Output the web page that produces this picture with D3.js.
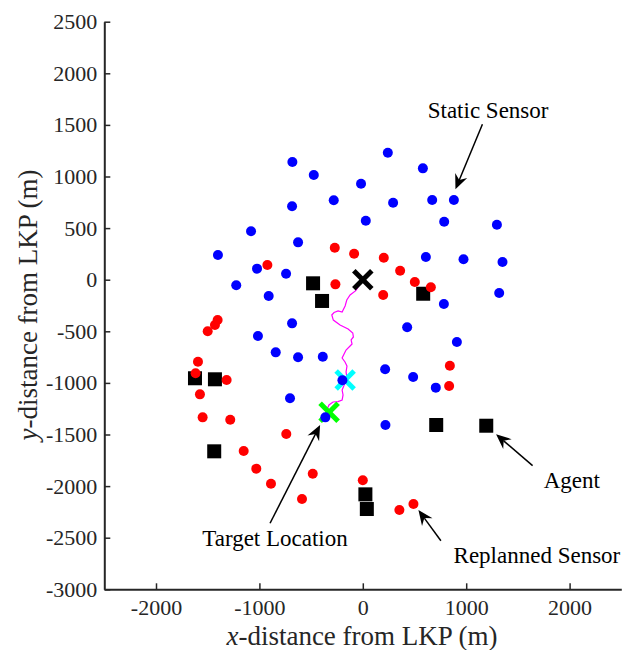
<!DOCTYPE html>
<html>
<head>
<meta charset="utf-8">
<script src="https://cdn.jsdelivr.net/npm/d3@7"></script>
<style>
  body { margin: 0; background: #fff; }
  text { font-family: "Liberation Serif", "DejaVu Serif", serif; }
</style>
</head>
<body>
<script>
// static sensors (blue)
var staticX = [-681, -474, -17, 242, 581, -684, -281, 293, 671, 881, -1081, -626, 29, 787, 1297,
               -1401, -1023, -742, 610, 974, 1351, -1224, -910, 1319, 784, -684, 429, -1014, 910,
               -842, -626, -387, 216, 487, 706, -197, -704, -362, 219];
var staticY = [1140, 1014, 930, 1231, 1079, 711, 769, 746, 772, 772, 469, 362, 572, 562, 533,
               239, 107, 58, 220, 198, 172, -54, -158, -129, -235, -423, -460, -546, -604,
               -704, -752, -746, -868, -943, -1046, -975, -1149, -1334, -1408];
// replanned sensors (red)
var replanX = [-923, -271, -84, -265, 203, 361, 503, 658, 197, -1404, -1430, -1500, -1594, -1617,
               -1317, -1575, -1549, -1282, -740, -1152, -1030, -888, -484, -588, 842, 835, 0, 354, 490];
var replanY = [142, 310, 252, -45, 213, 87, -22, -74, -148, -391, -439, -500, -795, -907,
               -972, -1111, -1334, -1357, -1495, -1660, -1831, -1977, -1880, -2125, -833, -1030, -1944, -2232, -2174];
// agents (black squares)
var agentX = [-481, -394, 584, -1623, -1430, -1437, 710, 1194, 25, 39];
var agentY = [-35, -206, -136, -955, -965, -1663, -1408, -1415, -2080, -2222];
// target track (magenta)
var trackX = [0, -68, -123, -155, -171, -200, -239, -278, -300, -285, -220, -142, -97, -91, -113, -104,
              -123, -162, -181, -200, -172, -153, -162, -153, -172, -200, -191, -200, -240, -288, -327, -349];
var trackY = [0, -106, -148, -197, -255, -313, -303, -318, -342, -391, -439, -478, -516, -555, -584, -623,
              -642, -681, -720, -759, -797, -836, -894, -953, -1001, -1069, -1117, -1166, -1182, -1185, -1214, -1263];
// cross markers: LKP, estimate, target location
var crossX = [0, -171, -326];
var crossY = [0, -972, -1285];
var crossColor = ['#000000', '#00ffff', '#00ff00'];

var xTicks = [-2000, -1000, 0, 1000, 2000];
var yTicks = [-3000, -2500, -2000, -1500, -1000, -500, 0, 500, 1000, 1500, 2000, 2500];

// annotations: label position, arrow tail, arrow tip (data units)
var noteText = ['Static Sensor', 'Agent', 'Replanned Sensor', 'Target Location'];
var noteX = [1212, 2022, 1684, -849];
var noteY = [1643, -1941, -2668, -2506];
var tailX = [1157, 1642, 755, -897];
var tailY = [1506, -1802, -2529, -2360];
var tipX = [896, 1289, 538, -413];
var tipY = [876, -1498, -2232, -1408];

var W = 623, H = 650;
var svg = d3.select('body').append('svg').attr('width', W).attr('height', H);

var x = d3.scaleLinear().domain([-2500, 2500]).range([104.3, 621.3]);
var y = d3.scaleLinear().domain([-3000, 2500]).range([589.3, 21.7]);

var axisColor = '#262626';
var minus = function (d) { return d < 0 ? '-' + Math.abs(d) : String(d); };

// axes
var gx = svg.append('g').attr('transform', 'translate(0,' + y(-3000) + ')')
    .call(d3.axisBottom(x).tickValues(xTicks).tickSizeInner(-6).tickSizeOuter(0).tickPadding(10)
        .tickFormat(minus));
var gy = svg.append('g').attr('transform', 'translate(' + x(-2500) + ',0)')
    .call(d3.axisLeft(y).tickValues(yTicks).tickSizeInner(-6).tickSizeOuter(0).tickPadding(7)
        .tickFormat(minus));
[gx, gy].forEach(function (g) {
    g.attr('font-family', '"Liberation Serif", serif').attr('font-size', 22);
    g.select('.domain').attr('stroke', axisColor).attr('stroke-width', 2);
    g.selectAll('.tick line').attr('stroke', axisColor).attr('stroke-width', 1.5);
    g.selectAll('.tick text').attr('fill', axisColor);
});

// axis labels
var xl = svg.append('text').attr('x', 362).attr('y', 645).attr('text-anchor', 'middle')
    .attr('fill', axisColor).style('font-size', '27px');
xl.append('tspan').style('font-style', 'italic').text('x');
xl.append('tspan').text('-distance from LKP (m)');

var yl = svg.append('text').attr('transform', 'translate(37,305) rotate(-90)').attr('text-anchor', 'middle')
    .attr('fill', axisColor).style('font-size', '27px');
yl.append('tspan').style('font-style', 'italic').text('y');
yl.append('tspan').text('-distance from LKP (m)');

// target track
var line = d3.line().x(function (d) { return x(d[0]); }).y(function (d) { return y(d[1]); });
svg.append('path').datum(d3.zip(trackX, trackY)).attr('d', line)
    .attr('fill', 'none').attr('stroke', '#ff00ff').attr('stroke-width', 1.2);

// crosses
var cs = 9;
crossX.forEach(function (cx, i) {
    var px = x(cx), py = y(crossY[i]);
    var g = svg.append('g').attr('stroke', crossColor[i]).attr('stroke-width', 5);
    g.append('line').attr('x1', px - cs).attr('y1', py - cs).attr('x2', px + cs).attr('y2', py + cs);
    g.append('line').attr('x1', px - cs).attr('y1', py + cs).attr('x2', px + cs).attr('y2', py - cs);
});

// agents
var sq = 14;
svg.append('g').selectAll('rect').data(d3.zip(agentX, agentY)).enter().append('rect')
    .attr('x', function (d) { return x(d[0]) - sq / 2; })
    .attr('y', function (d) { return y(d[1]) - sq / 2; })
    .attr('width', sq).attr('height', sq).attr('fill', '#000');

// static sensors
svg.append('g').selectAll('circle').data(d3.zip(staticX, staticY)).enter().append('circle')
    .attr('cx', function (d) { return x(d[0]); })
    .attr('cy', function (d) { return y(d[1]); })
    .attr('r', 5).attr('fill', '#0000ff');

// replanned sensors
svg.append('g').selectAll('circle').data(d3.zip(replanX, replanY)).enter().append('circle')
    .attr('cx', function (d) { return x(d[0]); })
    .attr('cy', function (d) { return y(d[1]); })
    .attr('r', 5).attr('fill', '#ff0000');

// annotations
noteText.forEach(function (t, i) {
    svg.append('text').attr('x', x(noteX[i])).attr('y', y(noteY[i])).attr('dy', '0.35em')
        .attr('text-anchor', 'middle').attr('fill', '#000').style('font-size', '23px').text(t);
    var x0 = x(tailX[i]), y0 = y(tailY[i]), x1 = x(tipX[i]), y1 = y(tipY[i]);
    var a = Math.atan2(y1 - y0, x1 - x0);
    var hl = 15, hw = 6.5, nl = 10;
    var bx = x1 - hl * Math.cos(a), by = y1 - hl * Math.sin(a);
    var nx = x1 - nl * Math.cos(a), ny = y1 - nl * Math.sin(a);
    svg.append('line').attr('x1', x0).attr('y1', y0).attr('x2', nx).attr('y2', ny)
        .attr('stroke', '#000').attr('stroke-width', 1.5);
    var pts = [[x1, y1],
               [bx + hw * Math.sin(a), by - hw * Math.cos(a)],
               [nx, ny],
               [bx - hw * Math.sin(a), by + hw * Math.cos(a)]];
    svg.append('path').attr('d', 'M' + pts.map(function (p) { return p.join(','); }).join('L') + 'Z')
        .attr('fill', '#000');
});
</script>
</body>
</html>
